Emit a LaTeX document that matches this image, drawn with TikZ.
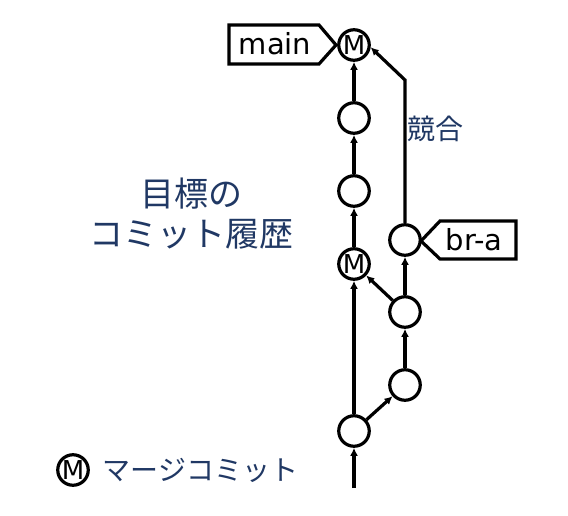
\documentclass[tikz,border=0pt]{standalone}
\usepackage{fontspec}
\setmainfont{DejaVu Sans}
\newfontfamily\jp{Noto Sans CJK JP}
\usetikzlibrary{arrows.meta}
\definecolor{navy}{RGB}{32,56,100}
\begin{document}
\begin{tikzpicture}[x=1pt,y=-1pt,
  commit/.style={circle,draw,line width=3.2pt,minimum size=30.5pt,inner sep=0pt,font=\fontsize{26}{26}\selectfont},
  edge/.style={line width=3.2pt,-{Latex[length=8pt,width=8pt]}},
  tag/.style={line width=3.2pt,line join=miter},
  tagtext/.style={font=\fontsize{29}{29}\selectfont},
  jptext/.style={text=navy,font={\jp\fontsize{#1}{#1}\selectfont}}]
\useasboundingbox (0,0) rectangle (568,516);
% commits
\node[commit] (m2) at (354,45) {M};
\node[commit] (c5) at (354,118) {};
\node[commit] (c4) at (354,191) {};
\node[commit] (m1) at (354,264) {M};
\node[commit] (c0) at (354,431) {};
\node[commit] (a1) at (405,385) {};
\node[commit] (a2) at (405,312) {};
\node[commit] (a3) at (405,240) {};
\coordinate (start) at (354,488);
\coordinate (bend) at (405,80);
% edges
\draw[edge] (start) -- (c0);
\draw[edge] (c0) -- (m1);
\draw[edge] (c0) -- (a1);
\draw[edge] (a1) -- (a2);
\draw[edge] (a2) -- (m1);
\draw[edge] (a2) -- (a3);
\draw[edge] (m1) -- (c4);
\draw[edge] (c4) -- (c5);
\draw[edge] (c5) -- (m2);
\draw[edge] (a3) -- (bend) -- (m2.-8);
% tags
\draw[tag] (229,25) -- (319,25) -- (336,45) -- (319,64) -- (229,64) -- cycle;
\node[tagtext] (mainlbl) at (275,44) {main};
\draw[tag] (421,241) -- (440,221) -- (516,221) -- (516,259) -- (440,259) -- cycle;
\node[tagtext] (bralbl) at (474,240) {br-a};
% texts
\node[jptext=28] (conflict) at (435,129) {競合};
\node[text=navy,font={\jp\fontsize{34}{40}\selectfont},align=center] (title) at (191,214) {目標の\\コミット履歴};
\node[commit] (legM) at (73,470) {M};
\node[jptext=28,anchor=west] (legtxt) at (99,470) {マージコミット};
\end{tikzpicture}
\end{document}
